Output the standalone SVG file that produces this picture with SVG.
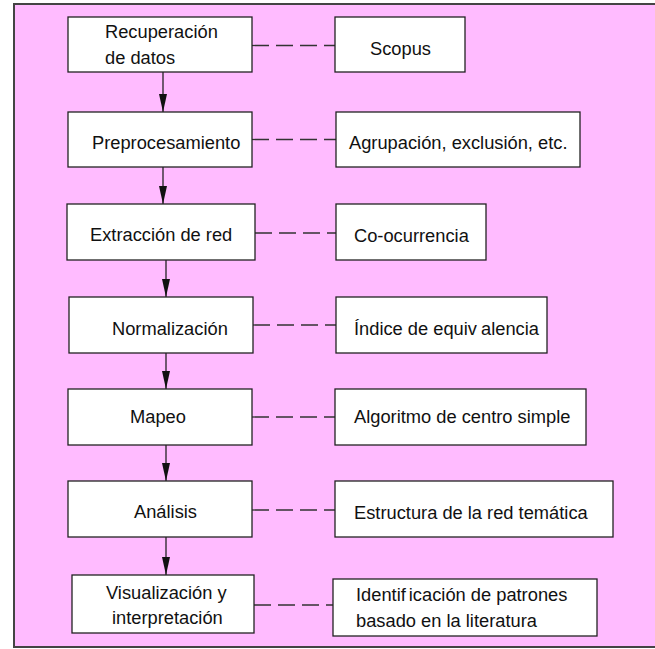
<svg xmlns="http://www.w3.org/2000/svg" width="655" height="649" viewBox="0 0 655 649">
<defs>
<style>
.box{fill:#ffffff;stroke:#222222;stroke-width:1.3}
.t{font-family:"Liberation Sans",Arial,sans-serif;font-size:18.3px;fill:#111111}
.dash{stroke:#333333;stroke-width:1.3;stroke-dasharray:17 7;fill:none}
.arr{stroke:#222222;stroke-width:1.3;fill:none;marker-end:url(#ah)}
</style>
<marker id="ah" viewBox="0 0 18 8" refX="18" refY="4" markerWidth="18" markerHeight="8" markerUnits="userSpaceOnUse" orient="auto">
<path d="M0,0 L18,4 L0,8 Z" fill="#111111"/>
</marker>
</defs>
<rect x="0" y="0" width="655" height="649" fill="#ffffff"/>
<rect id="frame" x="14" y="4" width="660" height="643" fill="#ffbbff" stroke="#444444" stroke-width="2"/>
<g id="connectors">
<line class="arr" x1="163" y1="72" x2="163" y2="112"/>
<line class="arr" x1="163" y1="167" x2="163" y2="204"/>
<line class="arr" x1="166" y1="260" x2="166" y2="297"/>
<line class="arr" x1="166" y1="353" x2="166" y2="389"/>
<line class="arr" x1="166" y1="445" x2="166" y2="481"/>
<line class="arr" x1="166" y1="537" x2="166" y2="575"/>
<line class="dash" x1="252" y1="45.5" x2="335" y2="45.5"/>
<line class="dash" x1="252" y1="139.5" x2="336" y2="139.5"/>
<line class="dash" x1="255" y1="233" x2="336" y2="233"/>
<line class="dash" x1="253" y1="325" x2="336" y2="325"/>
<line class="dash" x1="252" y1="417" x2="335" y2="417"/>
<line class="dash" x1="252" y1="510" x2="335" y2="510"/>
<line class="dash" x1="254" y1="605" x2="333" y2="605"/>
</g>
<g id="n1"><rect class="box" x="68" y="17" width="184" height="55"/><text class="t" x="105" y="38">Recuperación</text><text class="t" x="105" y="64">de datos</text></g>
<g id="n2"><rect class="box" x="68" y="112" width="184" height="55"/><text class="t" x="92" y="149">Preprocesamiento</text></g>
<g id="n3"><rect class="box" x="67" y="204" width="188" height="56"/><text class="t" x="90" y="241">Extracción de red</text></g>
<g id="n4"><rect class="box" x="69" y="297" width="184" height="56"/><text class="t" x="112" y="335">Normalización</text></g>
<g id="n5"><rect class="box" x="68" y="389" width="184" height="56"/><text class="t" x="130" y="423">Mapeo</text></g>
<g id="n6"><rect class="box" x="68" y="481" width="184" height="56"/><text class="t" x="134" y="518">Análisis</text></g>
<g id="n7"><rect class="box" x="72" y="575" width="182" height="58"/><text class="t" x="106" y="599">Visualización y</text><text class="t" x="112" y="624">interpretación</text></g>
<g id="r1"><rect class="box" x="335" y="17" width="130" height="55"/><text class="t" x="370" y="55">Scopus</text></g>
<g id="r2"><rect class="box" x="336" y="112" width="244" height="55"/><text class="t" x="349" y="149">Agrupación, exclusión, etc.</text></g>
<g id="r3"><rect class="box" x="336" y="204" width="150" height="56"/><text class="t" x="354" y="242">Co-ocurrencia</text></g>
<g id="r4"><rect class="box" x="336" y="297" width="211" height="56"/><text class="t" x="354" y="335">Índice de equiv<tspan dx="4">alencia</tspan></text></g>
<g id="r5"><rect class="box" x="335" y="389" width="251" height="56"/><text class="t" x="354" y="423">Algoritmo de centro simple</text></g>
<g id="r6"><rect class="box" x="335" y="481" width="278" height="56"/><text class="t" x="354" y="519">Estructura de la red temática</text></g>
<g id="r7"><rect class="box" x="333" y="579" width="264" height="57"/><text class="t" x="356" y="601">Identif<tspan dx="3">icación de patrones</tspan></text><text class="t" x="356" y="627">basado en la literatura</text></g>
</svg>
